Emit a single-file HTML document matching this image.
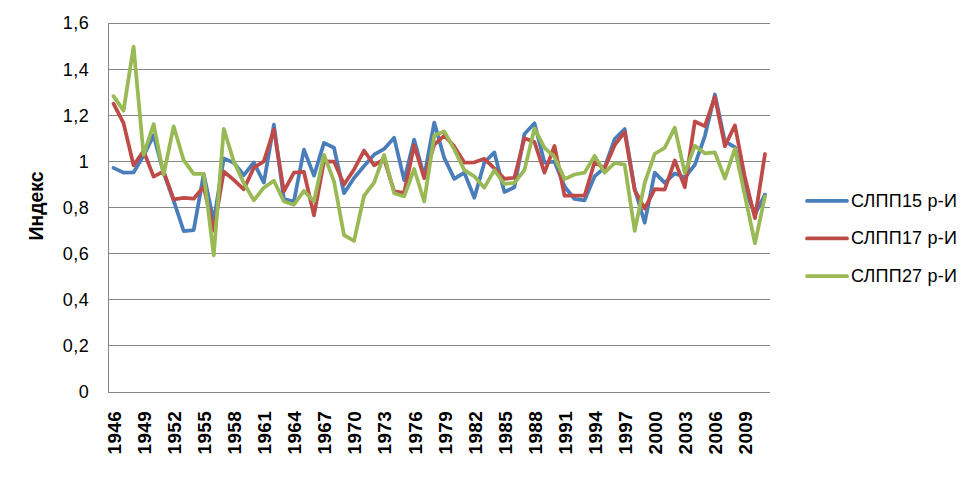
<!DOCTYPE html>
<html><head><meta charset="utf-8">
<style>
html,body{margin:0;padding:0;background:#fff;}
body{width:979px;height:477px;overflow:hidden;}
svg{display:block;}
text{font-family:"Liberation Sans",sans-serif;fill:#000;}
.yl{font-size:18px;letter-spacing:0.5px;}
.xl{font-size:19px;font-weight:bold;letter-spacing:0.3px;}
.lg{font-size:18px;letter-spacing:0.2px;}
.ti{font-size:19.4px;font-weight:bold;}
</style></head><body>
<svg width="979" height="477" viewBox="0 0 979 477">
<rect width="979" height="477" fill="#fff"/>
<rect x="108" y="23" width="662" height="1" fill="#868686"/>
<rect x="108" y="69" width="662" height="1" fill="#868686"/>
<rect x="108" y="115" width="662" height="1" fill="#868686"/>
<rect x="108" y="161" width="662" height="1" fill="#868686"/>
<rect x="108" y="207" width="662" height="1" fill="#868686"/>
<rect x="108" y="253" width="662" height="1" fill="#868686"/>
<rect x="108" y="299" width="662" height="1" fill="#868686"/>
<rect x="108" y="345" width="662" height="1" fill="#868686"/>
<rect x="108" y="23" width="1" height="370" fill="#868686"/>
<rect x="108" y="392" width="662" height="1" fill="#868686"/>

<polyline points="113.51,167.83 123.53,172.68 133.56,172.45 143.58,155.61 153.60,135.31 163.62,172.91 173.65,200.58 183.67,231.02 193.69,230.10 203.72,174.06 213.74,221.34 223.76,158.38 233.78,162.76 243.81,175.21 253.83,162.53 263.85,182.59 273.88,124.71 283.90,198.97 293.92,201.50 303.94,149.61 313.97,175.67 323.99,142.92 334.01,147.77 344.03,193.20 354.06,177.98 364.08,165.99 374.10,154.69 384.12,148.92 394.15,137.85 404.17,180.06 414.19,139.70 424.22,176.37 434.24,122.63 444.26,157.92 454.28,178.90 464.31,172.68 474.33,197.81 484.35,162.53 494.38,152.38 504.40,192.05 514.42,187.20 524.44,133.93 534.47,123.32 544.49,162.53 554.51,161.61 564.53,186.51 574.56,198.97 584.58,200.35 594.60,176.37 604.62,167.60 614.65,139.00 624.67,129.09 634.69,189.05 644.72,222.72 654.74,172.68 664.76,182.82 674.78,173.37 684.81,177.52 694.83,164.83 704.85,136.01 714.88,94.49 724.90,141.31 734.92,147.08 744.94,189.05 754.97,214.42 764.99,194.59" fill="none" stroke="#4A7EBB" stroke-width="3.75" stroke-linejoin="round" stroke-linecap="round"/>
<polyline points="113.51,103.72 123.53,123.09 133.56,165.30 143.58,151.00 153.60,176.60 163.62,171.29 173.65,199.43 183.67,197.81 193.69,198.74 203.72,186.74 213.74,230.56 223.76,171.52 233.78,179.82 243.81,189.28 253.83,167.60 263.85,161.38 273.88,129.55 283.90,191.36 293.92,172.68 303.94,171.98 313.97,215.34 323.99,161.38 334.01,161.61 344.03,184.44 354.06,169.45 364.08,150.54 374.10,165.30 384.12,159.07 394.15,191.36 404.17,192.74 414.19,145.23 424.22,178.21 434.24,144.54 444.26,135.54 454.28,146.38 464.31,162.53 474.33,162.30 484.35,158.84 494.38,168.29 504.40,178.90 514.42,177.75 524.44,138.31 534.47,142.00 544.49,172.68 554.51,145.92 564.53,195.74 574.56,195.74 584.58,195.74 594.60,162.07 604.62,168.29 614.65,145.23 624.67,132.09 634.69,190.20 644.72,208.65 654.74,189.05 664.76,189.51 674.78,160.45 684.81,187.20 694.83,121.48 704.85,126.09 714.88,97.03 724.90,146.15 734.92,125.40 744.94,177.52 754.97,218.11 764.99,154.00" fill="none" stroke="#BE4B48" stroke-width="3.75" stroke-linejoin="round" stroke-linecap="round"/>
<polyline points="113.51,96.11 123.53,110.64 133.56,46.52 143.58,154.92 153.60,124.24 163.62,174.52 173.65,126.32 183.67,160.22 193.69,173.83 203.72,173.83 213.74,255.24 223.76,128.86 233.78,161.38 243.81,183.05 253.83,200.35 263.85,187.67 273.88,180.75 283.90,201.50 293.92,204.73 303.94,190.90 313.97,201.50 323.99,154.92 334.01,181.44 344.03,235.17 354.06,240.94 364.08,195.74 374.10,182.59 384.12,154.92 394.15,193.20 404.17,196.43 414.19,168.99 424.22,201.50 434.24,135.54 444.26,131.39 454.28,149.38 464.31,170.14 474.33,176.37 484.35,187.67 494.38,170.14 504.40,183.98 514.42,182.82 524.44,170.14 534.47,128.40 544.49,147.77 554.51,156.99 564.53,179.13 574.56,174.52 584.58,172.68 594.60,155.84 604.62,172.68 614.65,162.99 624.67,164.60 634.69,230.79 644.72,182.82 654.74,153.76 664.76,147.77 674.78,127.70 684.81,172.91 694.83,145.69 704.85,153.30 714.88,152.38 724.90,178.44 734.92,148.69 744.94,195.97 754.97,243.25 764.99,196.43" fill="none" stroke="#98B954" stroke-width="3.75" stroke-linejoin="round" stroke-linecap="round"/>
<text x="89.2" y="29.4" text-anchor="end" class="yl">1,6</text>
<text x="89.2" y="75.5" text-anchor="end" class="yl">1,4</text>
<text x="89.2" y="121.7" text-anchor="end" class="yl">1,2</text>
<text x="89.2" y="167.8" text-anchor="end" class="yl">1</text>
<text x="89.2" y="213.9" text-anchor="end" class="yl">0,8</text>
<text x="89.2" y="260.0" text-anchor="end" class="yl">0,6</text>
<text x="89.2" y="306.1" text-anchor="end" class="yl">0,4</text>
<text x="89.2" y="352.3" text-anchor="end" class="yl">0,2</text>
<text x="89.2" y="398.4" text-anchor="end" class="yl">0</text>
<text transform="translate(120.8,411) rotate(-90)" text-anchor="end" class="xl">1946</text>
<text transform="translate(150.9,411) rotate(-90)" text-anchor="end" class="xl">1949</text>
<text transform="translate(180.9,411) rotate(-90)" text-anchor="end" class="xl">1952</text>
<text transform="translate(211.0,411) rotate(-90)" text-anchor="end" class="xl">1955</text>
<text transform="translate(241.1,411) rotate(-90)" text-anchor="end" class="xl">1958</text>
<text transform="translate(271.2,411) rotate(-90)" text-anchor="end" class="xl">1961</text>
<text transform="translate(301.2,411) rotate(-90)" text-anchor="end" class="xl">1964</text>
<text transform="translate(331.3,411) rotate(-90)" text-anchor="end" class="xl">1967</text>
<text transform="translate(361.4,411) rotate(-90)" text-anchor="end" class="xl">1970</text>
<text transform="translate(391.4,411) rotate(-90)" text-anchor="end" class="xl">1973</text>
<text transform="translate(421.5,411) rotate(-90)" text-anchor="end" class="xl">1976</text>
<text transform="translate(451.6,411) rotate(-90)" text-anchor="end" class="xl">1979</text>
<text transform="translate(481.6,411) rotate(-90)" text-anchor="end" class="xl">1982</text>
<text transform="translate(511.7,411) rotate(-90)" text-anchor="end" class="xl">1985</text>
<text transform="translate(541.8,411) rotate(-90)" text-anchor="end" class="xl">1988</text>
<text transform="translate(571.8,411) rotate(-90)" text-anchor="end" class="xl">1991</text>
<text transform="translate(601.9,411) rotate(-90)" text-anchor="end" class="xl">1994</text>
<text transform="translate(632.0,411) rotate(-90)" text-anchor="end" class="xl">1997</text>
<text transform="translate(662.0,411) rotate(-90)" text-anchor="end" class="xl">2000</text>
<text transform="translate(692.1,411) rotate(-90)" text-anchor="end" class="xl">2003</text>
<text transform="translate(722.2,411) rotate(-90)" text-anchor="end" class="xl">2006</text>
<text transform="translate(752.2,411) rotate(-90)" text-anchor="end" class="xl">2009</text>

<text transform="translate(42.5,206) rotate(-90)" text-anchor="middle" class="ti">Индекс</text>
<line x1="807" y1="200.9" x2="847" y2="200.9" stroke="#4A7EBB" stroke-width="3.75" stroke-linecap="round"/>
<line x1="807" y1="238.4" x2="847" y2="238.4" stroke="#BE4B48" stroke-width="3.75" stroke-linecap="round"/>
<line x1="807" y1="276.0" x2="847" y2="276.0" stroke="#98B954" stroke-width="3.75" stroke-linecap="round"/>
<text x="851" y="206.8" class="lg">СЛПП15 р-И</text>
<text x="851" y="244.3" class="lg">СЛПП17 р-И</text>
<text x="851" y="281.9" class="lg">СЛПП27 р-И</text>
</svg>
</body></html>
